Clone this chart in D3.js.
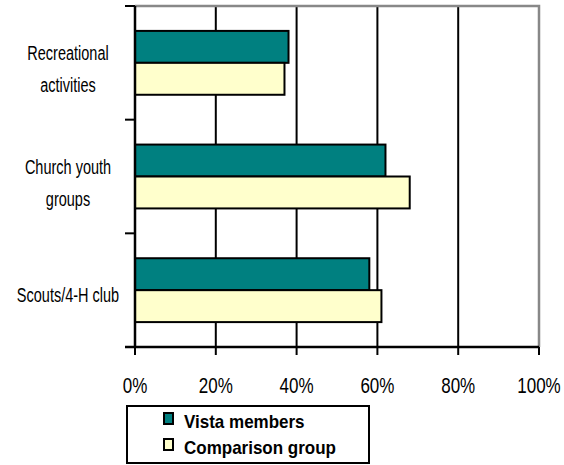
<!DOCTYPE html>
<html>
<head>
<meta charset="utf-8">
<script src="https://cdn.jsdelivr.net/npm/d3@7/dist/d3.min.js"></script>
<style>
  html, body { margin: 0; padding: 0; background: #fff; }
  svg { display: block; }
  text { font-family: "Liberation Sans", Arial, sans-serif; fill: #000; }
</style>
</head>
<body>
<svg id="chart" width="564" height="465"></svg>
<script>
const categories = ["Recreational activities", "Church youth groups", "Scouts/4-H club"];
const categoryLines = [["Recreational", "activities"], ["Church youth", "groups"], ["Scouts/4-H club"]];
const seriesNames = ["Vista members", "Comparison group"];
const vistaMembers = [38, 62, 58];
const comparisonGroup = [37, 68, 61];
const tickValues = [0, 20, 40, 60, 80, 100];
const tickLabels = ["0%", "20%", "40%", "60%", "80%", "100%"];
const colors = ["#008080", "#FFFFCC"];

(function () {
const seriesValues = [vistaMembers, comparisonGroup];

const svg = d3.select("#chart");
const pL = 135, pR = 539, pT = 6, pB = 347;

const x = d3.scaleLinear().domain([0, 100]).range([pL, pR]);
const y0 = d3.scaleBand().domain(categories).range([pT, pB]).padding(0);
const y1 = d3.scaleBand().domain(seriesNames).range([0, y0.bandwidth()])
  .paddingInner(0).paddingOuter(0.78);

// gridlines (black, inner)
svg.append("g").selectAll("line")
  .data(tickValues.filter(v => v > 0 && v < 100))
  .join("line")
  .attr("x1", d => x(d)).attr("x2", d => x(d))
  .attr("y1", pT).attr("y2", pB)
  .attr("stroke", "#000").attr("stroke-width", 2);

// plot border top & right (gray)
svg.append("path")
  .attr("d", `M${pL},${pT}H${pR}V${pB}`)
  .attr("fill", "none").attr("stroke", "#888").attr("stroke-width", 2.5);

// bars
const groups = svg.append("g").selectAll("g")
  .data(categories)
  .join("g")
  .attr("transform", d => `translate(0,${y0(d)})`);

groups.selectAll("rect")
  .data((c, i) => seriesNames.map((s, j) => ({ s, v: seriesValues[j][i], j })))
  .join("rect")
  .attr("x", x(0))
  .attr("y", d => y1(d.s))
  .attr("width", d => x(d.v) - x(0))
  .attr("height", y1.bandwidth())
  .attr("fill", d => colors[d.j])
  .attr("stroke", "#000").attr("stroke-width", 2);

// left axis
const yTicks = [pT].concat(categories.map(c => y0(c) + y0.bandwidth()));
svg.append("line").attr("x1", pL).attr("x2", pL).attr("y1", pT).attr("y2", pB)
  .attr("stroke", "#000").attr("stroke-width", 2.5);
svg.append("g").selectAll("line").data(yTicks).join("line")
  .attr("x1", pL - 10).attr("x2", pL).attr("y1", d => d).attr("y2", d => d)
  .attr("stroke", "#000").attr("stroke-width", 2);

// bottom axis
svg.append("line").attr("x1", pL - 10).attr("x2", pR).attr("y1", pB).attr("y2", pB)
  .attr("stroke", "#000").attr("stroke-width", 2.5);
svg.append("g").selectAll("line").data(tickValues).join("line")
  .attr("x1", d => x(d)).attr("x2", d => x(d)).attr("y1", pB).attr("y2", pB + 8)
  .attr("stroke", "#000").attr("stroke-width", 2);

// tick labels
svg.append("g").selectAll("text").data(tickValues).join("text")
  .attr("transform", d => `translate(${x(d)},393) scale(1,1.25)`)
  .attr("text-anchor", "middle")
  .attr("font-size", 17)
  .text((d, i) => tickLabels[i]);

// category labels
categories.forEach((c, i) => {
  const lines = categoryLines[i];
  const cy = y0(c) + y0.bandwidth() / 2;
  const base = lines.length === 1 ? cy + 12 : cy - 3;
  lines.forEach((ln, k) => {
    svg.append("text")
      .attr("transform", `translate(68,${base + k * 32}) scale(1,1.35)`)
      .attr("text-anchor", "middle")
      .attr("font-size", 14.5)
      .text(ln);
  });
});

// legend
const lg = svg.append("g");
lg.append("rect").attr("x", 127).attr("y", 406).attr("width", 242).attr("height", 57)
  .attr("fill", "#fff").attr("stroke", "#000").attr("stroke-width", 2);
seriesNames.forEach((s, j) => {
  const yy = 413 + j * 26;
  lg.append("rect").attr("x", 164).attr("y", yy).attr("width", 9).attr("height", 11)
    .attr("fill", colors[j]).attr("stroke", "#000").attr("stroke-width", 2);
  lg.append("text")
    .attr("transform", `translate(184,${yy + 15}) scale(1,1.1)`)
    .attr("font-size", 17).attr("font-weight", "bold")
    .text(s);
});
})();
</script>
</body>
</html>
